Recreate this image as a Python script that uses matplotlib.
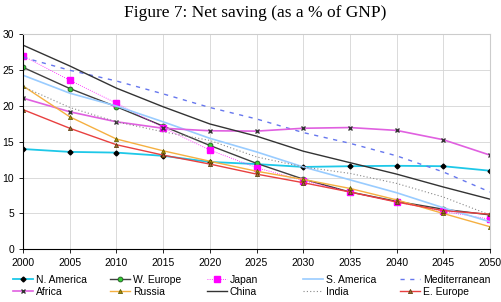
import matplotlib.pyplot as plt

years = [2000, 2005, 2010, 2015, 2020, 2025, 2030, 2035, 2040, 2045, 2050]

n_america = [14.0, 13.6, 13.5, 13.05, 12.2, 11.9, 11.5, 11.6, 11.66, 11.6, 10.97]
w_europe = [25.4, 22.45, 19.9, 17.2, 14.5, 12.0, 9.8, 8.0, 6.7, 5.6, 4.8]
japan = [27.0, 23.6, 20.4, 17.0, 13.85, 11.4, 9.6, 8.0, 6.6, 5.3, 4.2]
s_america = [24.3, 21.8, 20.0, 17.8, 15.5, 13.6, 11.5, 9.7, 7.9, 5.8, 3.85]
mediterranean = [26.8, 25.0, 23.5, 21.7, 19.8, 18.2, 16.3, 14.8, 13.05, 10.8, 8.0]
africa = [21.1, 19.2, 17.8, 16.9, 16.55, 16.5, 16.9, 17.0, 16.6, 15.3, 13.15]
russia = [22.8, 18.5, 15.4, 13.75, 12.3, 10.9, 9.76, 8.5, 6.9, 5.0, 3.15]
china = [28.5, 25.6, 22.5, 19.9, 17.5, 15.8, 13.7, 12.1, 10.5, 8.7, 7.0]
india = [22.7, 19.8, 17.8, 16.4, 15.2, 12.9, 11.5, 10.6, 9.2, 7.3, 4.8]
e_europe = [19.5, 16.9, 14.6, 13.15, 11.9, 10.5, 9.3, 8.0, 6.6, 5.4, 4.9]

plt.rcParams["font.family"] = ["Liberation Sans", "DejaVu Sans"]

fig = plt.figure(figsize=(5.01, 3.02), dpi=100)
ax = fig.add_axes([0.046, 0.1745, 0.932, 0.7115])

lines = {}
lines["N. America"] = ax.plot(years, n_america, color="#1EC8E8", lw=1.3, marker="D",
                              ms=2.5, mfc="black", mec="black")[0]
lines["W. Europe"] = ax.plot(years, w_europe, color="#404040", lw=1.0, marker="o",
                             ms=3.5, mfc="#33CC33", mec="#225522", mew=0.6)[0]
lines["Japan"] = ax.plot(years, japan, color="#FF00FF", lw=0.6, ls=":", marker="s",
                         ms=4, mfc="#FF00FF", mec="#FF00FF")[0]
lines["S. America"] = ax.plot(years, s_america, color="#99CCFF", lw=1.2)[0]
lines["Mediterranean"] = ax.plot(years, mediterranean, color="#6677EE", lw=1.0,
                                 ls=(0, (3, 4)))[0]
lines["Africa"] = ax.plot(years, africa, color="#E060E0", lw=1.2, marker="x",
                          ms=3, mec="#333333", mew=1.0)[0]
lines["Russia"] = ax.plot(years, russia, color="#F5B041", lw=1.0, marker="^",
                          ms=3, mfc="#AA8800", mec="#555500", mew=0.5)[0]
lines["China"] = ax.plot(years, china, color="#333333", lw=1.0)[0]
lines["India"] = ax.plot(years, india, color="#888888", lw=0.8, ls=(0, (1, 2)))[0]
lines["E. Europe"] = ax.plot(years, e_europe, color="#E84040", lw=1.0, marker="^",
                             ms=3, mfc="#996633", mec="#553300", mew=0.5)[0]

ax.set_xlim(2000, 2050)
ax.set_ylim(0, 30)
ax.set_xticks(range(2000, 2051, 5))
ax.set_yticks(range(0, 31, 5))
ax.tick_params(labelsize=7.5, length=3, width=0.6)
ax.grid(True, color="#d4d4d4", lw=0.6)
ax.set_axisbelow(True)
for s in ["top", "right"]:
    ax.spines[s].set_color("#cccccc")
for s in ["left", "bottom"]:
    ax.spines[s].set_linewidth(0.8)

fig.text(0.51, 0.943, "Figure 7: Net saving (as a % of GNP)", ha="center",
         va="baseline", fontsize=12.5, family="Liberation Serif")

# one small legend per column so the columns sit at fixed positions
columns = [("N. America", "Africa"), ("W. Europe", "Russia"), ("Japan", "China"),
           ("S. America", "India"), ("Mediterranean", "E. Europe")]
col_x = [13, 110, 207, 303, 400]
for x, names in zip(col_x, columns):
    fig.legend([lines[k] for k in names], names, loc="upper left",
               bbox_to_anchor=(x / 501, 1 - 275 / 302), borderaxespad=0,
               borderpad=0, frameon=False, fontsize=7.5, handlelength=1.9,
               handletextpad=0.3, labelspacing=0.18)

fig.savefig("out.png", dpi=100)
